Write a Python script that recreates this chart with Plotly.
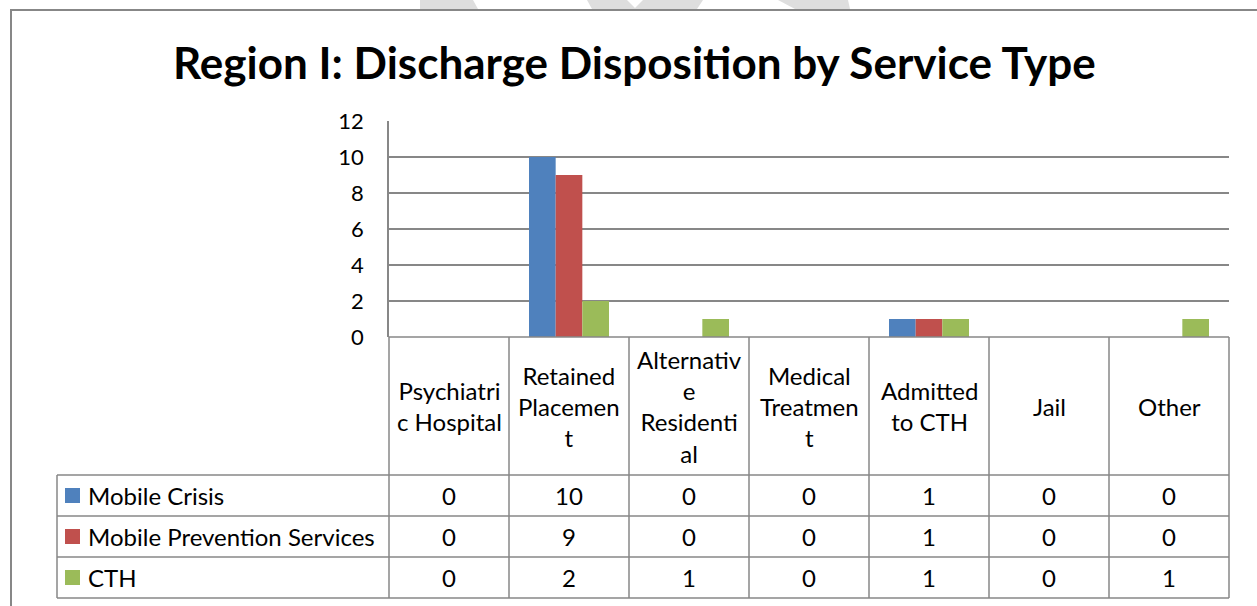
import plotly.graph_objects as go

W, H = 1257, 606

categories = ["Psychiatric Hospital", "Retained Placement", "Alternative Residential",
              "Medical Treatment", "Admitted to CTH", "Jail", "Other"]
header_labels = ["Psychiatri<br>c Hospital", "Retained<br>Placemen<br>t",
                 "Alternativ<br>e<br>Residenti<br>al", "Medical<br>Treatmen<br>t",
                 "Admitted<br>to CTH", "Jail", "Other"]
series_names = ["Mobile Crisis", "Mobile Prevention Services", "CTH"]
mobile_crisis = [0, 10, 0, 0, 1, 0, 0]
mobile_prevention = [0, 9, 0, 0, 1, 0, 0]
cth = [0, 2, 1, 0, 1, 0, 1]
colors = ["#4F81BD", "#C0504D", "#9BBB59"]
series_values = [mobile_crisis, mobile_prevention, cth]
y_ticks = [0, 2, 4, 6, 8, 10, 12]

FONT = "Lato, 'Open Sans', sans-serif"
GRID = "#878787"

# layout geometry (pixels)
PX_L, PX_R = 389, 1229      # plot area left/right
PY_T, PY_B = 121, 337       # plot area top/bottom
HDR_B = 475                 # header row bottom
ROW_H = 41
TBL_L = 57


def px(x):
    return x / W


def py(y):
    return 1 - y / H


fig = go.Figure()
for name, vals, col in zip(series_names, series_values, colors):
    fig.add_trace(go.Bar(x=list(range(len(categories))), y=vals, name=name,
                         marker=dict(color=col, line=dict(width=0)),
                         hovertext=categories, showlegend=False))

shapes = []
line = dict(color=GRID, width=1.5)
ncol = len(categories)
colw = (PX_R - PX_L) / ncol
n_rows = len(series_names)
tbl_bottom = HDR_B + ROW_H * n_rows

# header top line (x-axis baseline)
shapes.append(dict(type="line", xref="paper", yref="paper", x0=px(PX_L), x1=px(PX_R),
                   y0=py(PY_B), y1=py(PY_B), line=line))
# horizontal row lines
for r in range(n_rows + 1):
    yy = HDR_B + r * ROW_H
    shapes.append(dict(type="line", xref="paper", yref="paper", x0=px(TBL_L), x1=px(PX_R),
                       y0=py(yy), y1=py(yy), line=line))
# vertical column lines
for c in range(ncol + 1):
    xx = PX_L + c * colw
    shapes.append(dict(type="line", xref="paper", yref="paper", x0=px(xx), x1=px(xx),
                       y0=py(PY_B), y1=py(tbl_bottom), line=line))
shapes.append(dict(type="line", xref="paper", yref="paper", x0=px(TBL_L), x1=px(TBL_L),
                   y0=py(HDR_B), y1=py(tbl_bottom), line=line))

# legend keys
for r, col in enumerate(colors):
    cy = HDR_B + r * ROW_H + ROW_H / 2
    shapes.append(dict(type="rect", xref="paper", yref="paper", x0=px(65), x1=px(80),
                       y0=py(cy - 7.5), y1=py(cy + 7.5), fillcolor=col, line=dict(width=0)))

# outer chart border
shapes.append(dict(type="rect", xref="paper", yref="paper", x0=px(11), x1=px(1300),
                   y0=py(640), y1=py(10), line=dict(color=GRID, width=2), layer="below"))

# faint watermark pieces at the very top
wm = "#DEDEDE"
for pts in [[(420, 0), (473, 0), (478, 9), (420, 9)],
            [(587, 0), (627, 0), (635, 8), (643, 0), (703, 0), (697, 9), (592, 9)],
            [(778, 0), (848, 0), (850, 9), (795, 9)]]:
    path = "M " + " L ".join(f"{px(a)},{py(b)}" for a, b in pts) + " Z"
    shapes.append(dict(type="path", xref="paper", yref="paper", path=path,
                       fillcolor=wm, line=dict(width=0), layer="below"))

annotations = []
# title
annotations.append(dict(text="<b>Region I: Discharge Disposition by Service Type</b>",
                        xref="paper", yref="paper", x=px(634), y=py(62),
                        xanchor="center", yanchor="middle", showarrow=False,
                        font=dict(family=FONT, size=44, color="black")))
# header labels
for i, lab in enumerate(header_labels):
    annotations.append(dict(text=lab, xref="x", yref="paper", x=i, y=py((PY_B + HDR_B) / 2),
                            xanchor="center", yanchor="middle", showarrow=False,
                            font=dict(family=FONT, size=24, color="black")))
# row labels and values
for r, (name, vals) in enumerate(zip(series_names, series_values)):
    cy = HDR_B + r * ROW_H + ROW_H / 2
    annotations.append(dict(text=name, xref="paper", yref="paper", x=px(86), y=py(cy),
                            xanchor="left", yanchor="middle", showarrow=False,
                            font=dict(family=FONT, size=24, color="black")))
    for i, v in enumerate(vals):
        annotations.append(dict(text=str(v), xref="x", yref="paper", x=i, y=py(cy),
                                xanchor="center", yanchor="middle", showarrow=False,
                                font=dict(family=FONT, size=24, color="black")))

fig.update_layout(
    width=W, height=H, autosize=False,
    margin=dict(l=0, r=0, t=0, b=0, pad=0, autoexpand=False),
    paper_bgcolor="white", plot_bgcolor="white",
    barmode="group", bargap=1 / 3, bargroupgap=0,
    shapes=shapes, annotations=annotations,
    xaxis=dict(domain=[px(PX_L), px(PX_R)], range=[-0.5, ncol - 0.5], showticklabels=False,
               showgrid=False, zeroline=False, showline=False, fixedrange=True,
               automargin=False),
    yaxis=dict(domain=[py(PY_B), py(PY_T)], range=[0, 12], tickvals=y_ticks,
               showgrid=True, gridcolor=GRID, gridwidth=1.5, zeroline=False,
               showline=True, linecolor=GRID, linewidth=1.5, ticks="",
               ticklabelstandoff=19, automargin=False,
               tickfont=dict(family=FONT, size=22, color="black"), fixedrange=True),
)

fig.write_html("out.html", post_script="document.body.style.margin='0';",
               config={"displayModeBar": False})
